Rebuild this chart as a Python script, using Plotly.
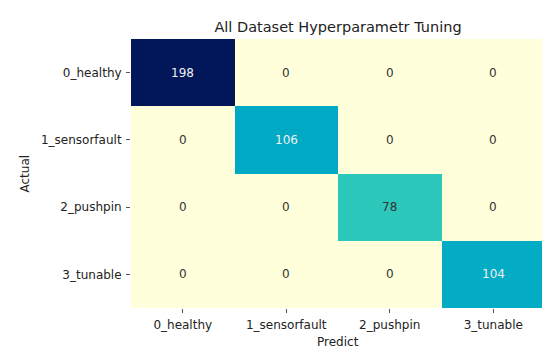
import plotly.graph_objects as go

labels = ["0_healthy", "1_sensorfault", "2_pushpin", "3_tunable"]
matrix = [
    [198, 0, 0, 0],
    [0, 106, 0, 0],
    [0, 0, 78, 0],
    [0, 0, 0, 104],
]
title_text = "All Dataset Hyperparametr Tuning"
x_title = "Predict"
y_title = "Actual"

FONT = "DejaVu Sans"
TXT = "#222222"
colorscale = [
    [0.0, "#ffffdc"],
    [0.2, "#c4e8b4"],
    [0.394, "#2cc8bb"],
    [0.535, "#00aac5"],
    [0.75, "#1a5fa8"],
    [1.0, "#01175a"],
]

W, H = 550, 354
L, R, T, B = 123, 13, 31, 54

fig = go.Figure(
    go.Heatmap(
        z=matrix,
        x=labels,
        y=labels,
        colorscale=colorscale,
        zmin=0,
        zmax=198,
        showscale=False,
    )
)

vmax = max(max(r) for r in matrix)
for i, row in enumerate(matrix):
    for j, v in enumerate(row):
        color = "#f0f0f0" if v / vmax > 0.45 else "#333333"
        fig.add_annotation(
            x=labels[j], y=labels[i], text=str(v), showarrow=False,
            font=dict(family=FONT, size=12, color=color),
        )

# axis titles
fig.add_annotation(
    xref="paper", yref="paper", x=0.5, y=-(334 - (H - B)) / (H - T - B),
    text=x_title, showarrow=False, xanchor="center", yanchor="middle",
    font=dict(family=FONT, size=12, color=TXT),
)
fig.add_annotation(
    xref="paper", yref="paper", x=-(L - 16) / (W - L - R), y=0.5,
    text=y_title, showarrow=False, xanchor="center", yanchor="middle", textangle=-90,
    font=dict(family=FONT, size=12, color=TXT),
)

fig.update_layout(
    width=W, height=H,
    margin=dict(l=L, r=R, t=T, b=B, autoexpand=False),
    paper_bgcolor="white", plot_bgcolor="white",
    font=dict(family=FONT, size=12, color=TXT),
    title=dict(text=title_text, x=(L + (W - R)) / 2 / W, xanchor="center",
               y=1 - 19 / H, yanchor="middle", font=dict(size=14.5, color=TXT)),
)
fig.update_xaxes(
    ticks="outside", ticklen=4, tickcolor="#555555", showgrid=False, zeroline=False,
    showline=False, automargin=False, ticklabelstandoff=2,
)
fig.update_yaxes(
    autorange="reversed", ticks="outside", ticklen=4, tickcolor="#555555",
    showgrid=False, zeroline=False, showline=False, automargin=False, ticklabelstandoff=2,
)

fig.write_html("out.html")
